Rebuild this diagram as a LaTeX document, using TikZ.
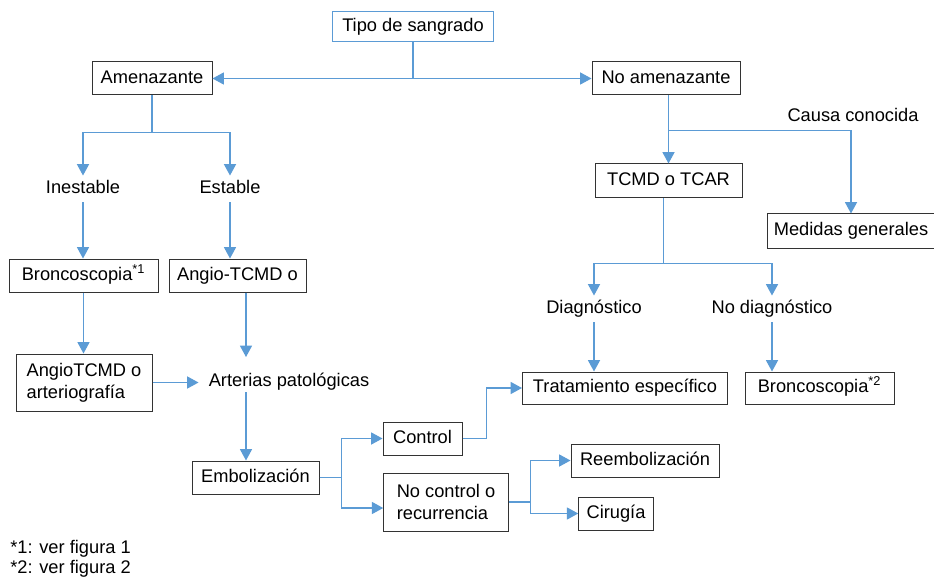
\documentclass[tikz,border=0pt]{standalone}
\usepackage{fontspec}
\setmainfont{Liberation Sans}
\usetikzlibrary{arrows.meta,calc}
\definecolor{lblue}{HTML}{5B9BD5}
\definecolor{bgray}{HTML}{333333}
\begin{document}
\begin{tikzpicture}[x=0.75pt,y=-0.75pt,
  font=\fontsize{13.7}{16.8}\selectfont,
  box/.style={draw=bgray, line width=0.75pt, inner sep=0pt, text height=0.72em, text depth=0pt},
  mbox/.style={draw=bgray, line width=0.75pt, inner sep=0pt, align=left},
  lab/.style={inner xsep=2pt, inner ysep=6.3pt, text height=0.72em, text depth=0pt},
  conn/.style={draw=lblue, line width=1pt, -{Triangle[length=8.5pt,width=9pt]}},
  foot/.style={anchor=west, inner sep=0pt, text height=0.72em, text depth=0pt}]
\useasboundingbox (0,0) rectangle (934,577);

% boxes
\node[box, draw=lblue, minimum width=120.75pt, minimum height=22.5pt] (tipo) at (413,27) {Tipo de sangrado};
\node[box, minimum width=90pt, minimum height=24.75pt] (amen) at (152,78.5) {Amenazante};
\node[box, minimum width=111pt, minimum height=24.75pt] (noamen) at (666,78.5) {No amenazante};
\node[box, minimum width=110.25pt, minimum height=25.5pt] (tcmd) at (668.5,181) {TCMD o TCAR};
\node[box, minimum width=126pt, minimum height=25.5pt] (medidas) at (851,231) {Medidas generales};
\node[box, minimum width=111.75pt, minimum height=24.75pt] (bron1) at (83.5,275.5) {Broncoscopia\textsuperscript{*1}};
\node[box, minimum width=102.75pt, minimum height=24.75pt] (angio1) at (237.5,275.5) {Angio-TCMD o};
\node[mbox, minimum width=102pt, minimum height=42.75pt] (angio2) at (84,382.5) {AngioTCMD o\\arteriografía};
\node[box, minimum width=95.25pt, minimum height=24.75pt] (embo) at (255.5,477.5) {Embolización};
\node[box, minimum width=59.25pt, minimum height=24.75pt] (control) at (422.5,438.5) {Control};
\node[mbox, minimum width=93.4pt, minimum height=43.5pt] (nocontrol) at (446,502) {No control o\\recurrencia};
\node[box, minimum width=111pt, minimum height=24.75pt] (reemb) at (645,460.5) {Reembolización};
\node[box, minimum width=55.9pt, minimum height=24.75pt] (ciru) at (616,513.5) {Cirugía};
\node[box, minimum width=153.75pt, minimum height=24pt] (trat) at (625,388) {Tratamiento específico};
\node[box, minimum width=111.75pt, minimum height=24pt] (bron2) at (819.5,388) {Broncoscopia\textsuperscript{*2}};

% labels
\node[lab] (inest) at (83,189) {Inestable};
\node[lab] (estab) at (230,189) {Estable};
\node[lab, inner xsep=7.5pt] (arter) at (289,381.5) {Arterias patológicas};
\node[lab] (diag) at (594,309) {Diagnóstico};
\node[lab] (nodiag) at (772,309) {No diagnóstico};
\node[lab] (causa) at (853,117) {Causa conocida};
\node[foot] (fn1) at (10,549) {*1: ver figura 1};
\node[foot] (fn2) at (10,569) {*2: ver figura 2};

\coordinate (arterin) at (246,357);
\coordinate (arterout) at (246,392);

% connectors
\draw[conn] (tipo.south) |- (amen.east);
\draw[conn] (tipo.south) |- (noamen.west);
\draw[conn] (amen.south) -- ++(0,37) -| (inest.north);
\draw[conn] (amen.south) -- ++(0,37) -| (estab.north);
\draw[conn] (inest.south) -- (inest.south |- bron1.north);
\draw[conn] (estab.south) -- (estab.south |- angio1.north);
\draw[conn] (bron1.south) -- (bron1.south |- angio2.north);
\draw[conn] (angio1.south -| arterin) -- (arterin);
\draw[conn] (angio2.east) -- (angio2.east -| arter.west);
\draw[conn] (arterout) -- (arterout |- embo.north);
\draw[conn] (embo.east) -- ++(22,0) |- (control.west);
\draw[conn] (embo.east) -- ++(22,0) |- ($(nocontrol.west)+(0,6)$);
\draw[conn] (control.east) -- ++(24,0) |- (trat.west);
\draw[conn] (nocontrol.east) -- ++(22,0) |- (reemb.west);
\draw[conn] (nocontrol.east) -- ++(22,0) |- (ciru.west);
\draw[conn] (noamen.south -| tcmd.north) -- (tcmd.north);
\draw[conn] (noamen.south -| tcmd.north) -- ++(0,35) -| (medidas.north);
\draw[conn] ($(tcmd.south)+(-5,0)$) -- ++(0,64.7) -| (diag.north);
\draw[conn] ($(tcmd.south)+(-5,0)$) -- ++(0,64.7) -| (nodiag.north);
\draw[conn] (diag.south) -- (diag.south |- trat.north);
\draw[conn] (nodiag.south) -- (nodiag.south |- bron2.north);
\end{tikzpicture}
\end{document}
